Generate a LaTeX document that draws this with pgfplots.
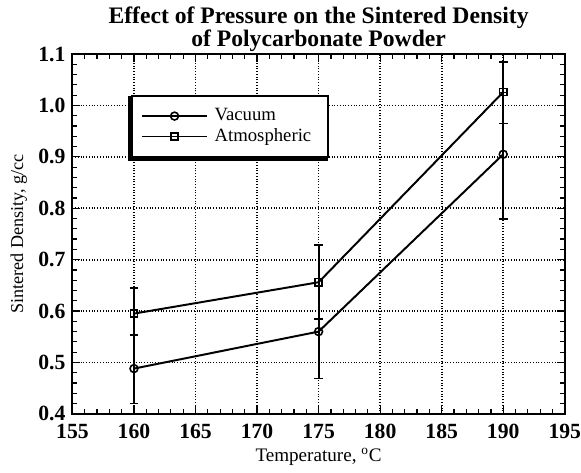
\documentclass[border=0pt]{standalone}
\usepackage{pgfplots}
\pgfplotsset{compat=1.18}
\usepackage{fontspec}
\setmainfont{Liberation Serif}
\begin{document}
\begin{tikzpicture}
\begin{axis}[
  scale only axis,
  width=250pt, height=182.7pt,
  xmin=155, xmax=195, ymin=0.4, ymax=1.1,
  xtick={155,160,...,195},
  ytick={0.4,0.5,...,1.1},
  minor x tick num=4,
  minor y tick num=4,
  tick align=inside,
  major tick length=4pt,
  minor tick length=2.5pt,
  axis line style={line width=1pt},
  every tick/.style={black, line width=0.6pt},
  grid=major,
  major grid style={black, densely dotted, line width=0.9pt},
  /pgf/number format/assume math mode=true,
  /pgf/number format/.cd, fixed, fixed zerofill, precision=1, /pgfplots/.cd,
  xticklabel style={font=\bfseries\fontsize{11}{12}\selectfont, inner xsep=0pt, yshift=-1.5pt},
  yticklabel style={font=\bfseries\fontsize{11}{12}\selectfont},
  xticklabel={\pgfmathprintnumber[fixed,precision=0]{\tick}},
  title={Effect of Pressure on the Sintered Density\\ of Polycarbonate Powder},
  title style={font=\bfseries\fontsize{12}{10}\selectfont, align=center, yshift=-8.5pt},
  xlabel={Temperature, \textsuperscript{o}C},
  ylabel={Sintered Density, g/cc},
  xlabel style={font=\fontsize{9.7}{11}\selectfont, yshift=2pt},
  ylabel style={font=\fontsize{9.2}{11}\selectfont, inner ysep=5.3pt, yshift=-3pt},
  legend style={name=leg, at={(0.118,0.887)}, anchor=north west, draw=black, line width=1pt,
    font=\fontsize{9.5}{11}\selectfont, inner xsep=5pt, inner ysep=4.5pt,
    row sep=-1.5pt},
  legend cell align=left,
  legend image code/.code={\draw[mark repeat=2, mark phase=2, line width=0.7pt] plot coordinates {(0cm,0cm) (0.58cm,0cm) (1.16cm,0cm)};},
  legend style={nodes={inner xsep=3.5pt}},
]
\addplot[black, line width=1pt, mark=o, mark size=2pt, mark options={solid, line width=0.8pt},
  error bars/.cd, y dir=both, y explicit,
  error bar style={line width=1pt},
  error mark options={rotate=90, mark size=2.2pt, line width=0.8pt}]
  coordinates {
  (160,0.488) += (0,0.065) -= (0,0.068)
  (175,0.560) += (0,0.090) -= (0,0.091)
  (190,0.905) += (0,0.120) -= (0,0.126)
};
\addlegendentry{Vacuum}
\addplot[black, line width=1pt, mark=square, mark size=1.8pt, mark options={solid, line width=0.8pt},
  error bars/.cd, y dir=both, y explicit,
  error bar style={line width=1pt},
  error mark options={rotate=90, mark size=2.2pt, line width=0.8pt}]
  coordinates {
  (160,0.595) += (0,0.050) -= (0,0.043)
  (175,0.656) += (0,0.072) -= (0,0.072)
  (190,1.026) += (0,0.058) -= (0,0.061)
};
\addlegendentry{Atmospheric}
\end{axis}
\draw[black, line width=1.5pt] ([xshift=-0.75pt,yshift=-0.75pt]leg.north west) -- ([xshift=-0.75pt,yshift=-0.75pt]leg.south west) -- ([xshift=-0.75pt,yshift=-0.75pt]leg.south east);
\end{tikzpicture}
\end{document}
